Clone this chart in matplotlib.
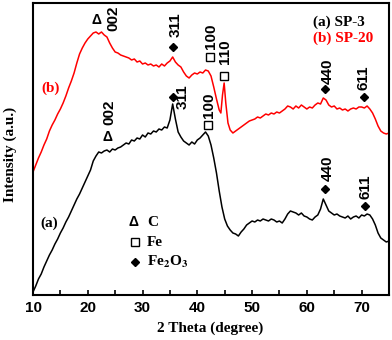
import numpy as np
import matplotlib
matplotlib.use("Agg")
import matplotlib.pyplot as plt

plt.rcParams['mathtext.fontset'] = 'stix'

# 2 theta grid (degree)
theta_a = np.arange(10, 75.5, 0.5)

# (a) SP-3, black curve (arbitrary intensity units)
sp3 = [3, 9, 16, 21, 28, 34, 40, 45, 51, 56,
       62, 67, 73, 78, 84, 90, 96, 101, 107, 113,
       119, 125, 134, 139, 143, 142, 144, 145, 143, 146,
       145, 147, 148, 150, 152, 151, 155, 154, 157, 156,
       160, 158, 162, 161, 164, 163, 166, 165, 168, 167,
       175, 191, 176, 163, 158, 154, 152, 150, 153, 151,
       155, 157, 160, 163, 159, 150, 137, 122, 104, 88,
       76, 69, 65, 62, 61, 59, 63, 66, 70, 72,
       74, 73, 75, 74, 76, 75, 74, 76, 75, 73,
       74, 72, 76, 81, 84, 83, 82, 80, 82, 79,
       78, 76, 75, 78, 80, 86, 96, 90, 84, 82,
       80, 81, 79, 78, 77, 79, 76, 78, 79, 77,
       80, 79, 81, 80, 76, 70, 62, 57, 55, 53,
       54]

# (b) SP-20, red curve
theta_b = list(np.arange(10, 44.5, 0.5)) + [44.3, 44.6, 44.9, 45.2, 45.6] + list(np.arange(46, 75.5, 0.5))
sp20 = [123, 130, 137, 143, 150, 156, 164, 170, 175, 181,
        186, 192, 199, 207, 214, 222, 232, 241, 247, 252,
        256, 259, 262, 263, 261, 263, 260, 258, 252, 247,
        243, 242, 240, 239, 238, 237, 235, 236, 233, 234,
        231, 232, 230, 231, 229, 230, 228, 231, 229, 232,
        234, 238, 233, 230, 228, 223, 219, 217, 220, 222,
        221, 223, 222, 225, 224, 219, 208, 196, 185,
        182, 200, 212, 192, 172,
        165, 162, 164, 166, 168, 170, 172, 174, 175, 176,
        178, 177, 179, 181, 180, 182, 181, 183, 182, 184,
        186, 189, 188, 186, 189, 187, 190, 188, 186, 188,
        187, 190, 192, 191, 197, 195, 190, 188, 189, 186,
        187, 185, 186, 184, 186, 187, 186, 188, 188, 187,
        189, 186, 182, 176, 169, 164, 162, 161, 162]

# peak markers: (theta, intensity, phase, hkl, label theta, label intensity)
peaks = [
    (21.6, 275, 'C', '002', 24.7, 277),
    (35.5, 248, 'Fe2O3', '311', 36.1, 270),
    (42.3, 238, 'Fe', '100', 42.5, 259),
    (44.9, 219, 'Fe', '110', 45.0, 243),
    (63.4, 206, 'Fe2O3', '440', 63.8, 224),
    (70.4, 198, 'Fe2O3', '611', 70.4, 217),
    (23.6, 158, 'C', '002', 23.9, 183),
    (35.5, 198, 'Fe2O3', '311', 37.3, 198),
    (41.9, 170, 'Fe', '100', 42.1, 190),
    (63.4, 106, 'Fe2O3', '440', 63.8, 127),
    (70.6, 89, 'Fe2O3', '611', 70.7, 108),
]

fig = plt.figure(figsize=(3.92, 3.40), dpi=100)
ax = fig.add_axes([33/392, 45/340, 356/392, 292/340])

ax.plot(theta_a, sp3, color='black', lw=1.1)
ax.plot(theta_b, sp20, color='red', lw=1.1)

sans = 'Liberation Sans'
serif = 'Liberation Serif'


def draw_marker(x, y, kind):
    if kind == 'C':
        ax.text(x, y, 'Δ', fontsize=10, fontweight='bold', family=sans,
                ha='center', va='center')
    elif kind == 'Fe':
        ax.plot([x], [y], marker='s', ms=5.5, mfc='white', mec='black', mew=1.0)
    else:
        ax.plot([x], [y], marker='D', ms=4.5, mfc='black', mec='black')


for x, y, kind, lab, lx, ly in peaks:
    draw_marker(x, y, kind)
    ax.text(lx, ly, lab, rotation=90, fontsize=11, fontweight='bold', family=sans,
            ha='center', va='center')

# phase legend
draw_marker(28.3, 73, 'C')
draw_marker(28.6, 53, 'Fe')
draw_marker(28.6, 33, 'Fe2O3')
ax.text(30.8, 73, 'C', fontsize=11, fontweight='bold', family=serif, va='center')
ax.text(30.8, 53, 'Fe', fontsize=11, fontweight='bold', family=serif, va='center')
ax.text(30.8, 33, r'Fe$_{\mathbf{2}}$O$_{\mathbf{3}}$', fontsize=11, fontweight='bold',
        family=serif, va='center')

ax.text(61.2, 273, '(a) SP-3', fontsize=11, fontweight='bold', family=serif, va='center')
ax.text(61.2, 257, '(b) SP-20', fontsize=11, fontweight='bold', family=serif, va='center',
        color='red')
ax.text(11.6, 207, '(b)', fontsize=11, fontweight='bold', family=serif, va='center', color='red')
ax.text(11.3, 72, '(a)', fontsize=11, fontweight='bold', family=serif, va='center')

ax.set_xlim(10, 75)
ax.set_ylim(0, 292)
ax.set_xticks(range(10, 80, 10))
ax.set_xticks(range(15, 80, 10), minor=True)
ax.set_yticks([])
ax.tick_params(axis='x', which='both', direction='in', length=3.5, width=1.2, pad=4)
for lbl in ax.get_xticklabels():
    lbl.set_fontsize(11)
    lbl.set_fontweight('bold')
    lbl.set_family(sans)
for s in ax.spines.values():
    s.set_linewidth(1.5)

ax.set_xlabel('2 Theta (degree)', fontsize=11, fontweight='bold', family=serif)
ax.xaxis.set_label_coords(0.497, -0.092)
ax.set_ylabel('Intensity (a.u.)', fontsize=11, fontweight='bold', family=serif)
ax.yaxis.set_label_coords(-0.045, 0.48)

fig.savefig('out.png', dpi=100)
